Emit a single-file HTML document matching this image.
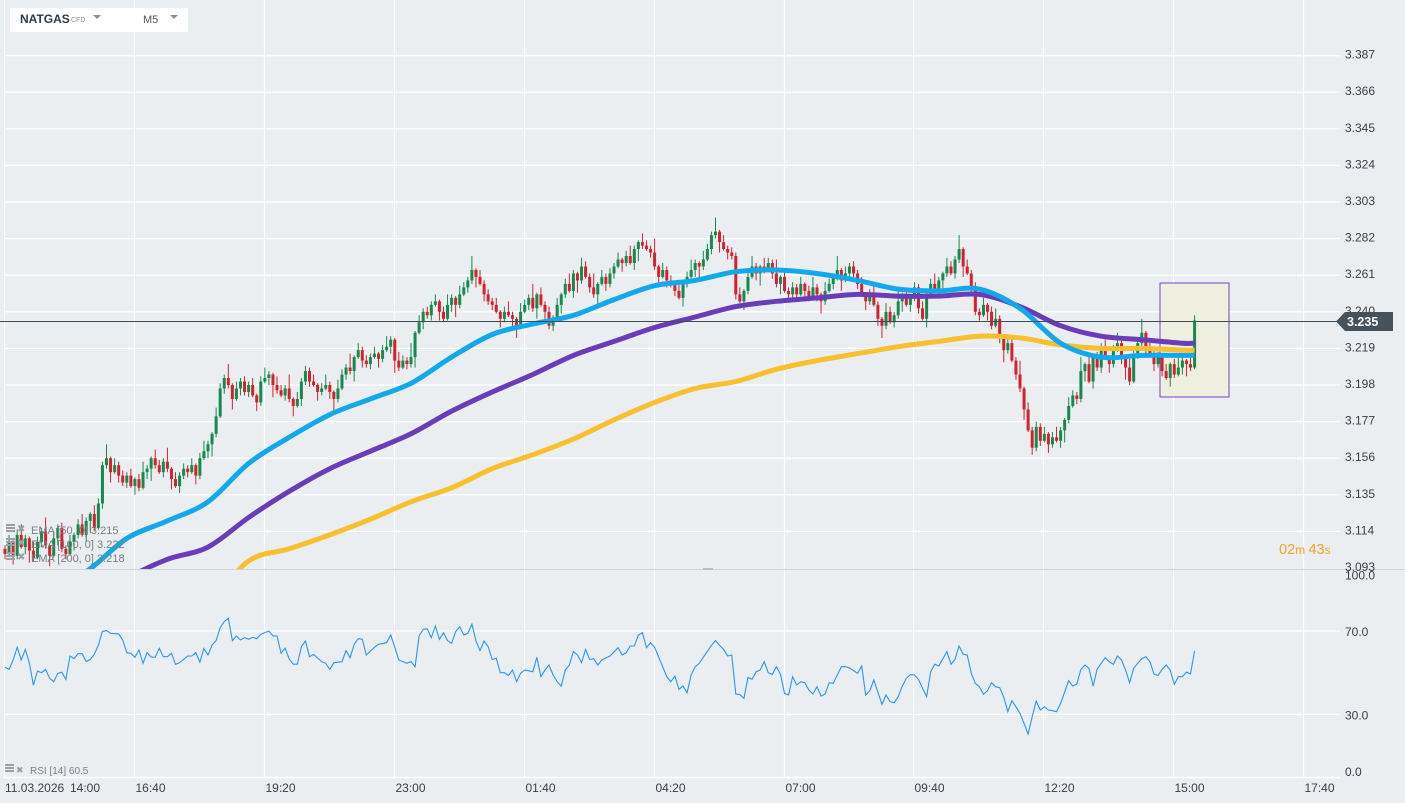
<!DOCTYPE html>
<html><head><meta charset="utf-8"><style>
html,body{margin:0;padding:0;background:#ebeef1;width:1405px;height:803px;overflow:hidden;font-family:"Liberation Sans",sans-serif}
svg{position:absolute;left:0;top:0}
</style></head><body>
<svg id="chart" width="1405" height="803" viewBox="0 0 1405 803">
<rect x="0" y="0" width="1405" height="803" fill="#ebeef1"/>
<g id="grid"></g>
<g id="highlight"><rect x="1160" y="283" width="69" height="114" fill="#efefdf" stroke="#7046c0" stroke-width="1"/></g>
<g id="candles"></g>
<g id="emas"></g>
<line x1="0" y1="321.5" x2="1340" y2="321.5" stroke="#3f4a52" stroke-width="1"/>
<rect x="0" y="569" width="1340" height="1" fill="#cfd4d8"/>
<rect x="1340" y="569" width="65" height="1" fill="#cfd4d8"/>
<rect x="703" y="568" width="10" height="2" fill="#b9bec3"/>
<g id="rsi"></g>
<g id="axes"></g>
<g>
<polygon points="1336,321.5 1345,312 1393,312 1393,331 1345,331" fill="#45525c"/>
<text x="1347" y="326" font-size="12.5" font-weight="bold" fill="#fff">3.235</text>
</g>
<g>
<text x="1279" y="554" fill="#f5a321" font-size="14"><tspan font-size="14.5">02</tspan><tspan font-size="12">m </tspan><tspan font-size="14.5">43</tspan><tspan font-size="12">s</tspan></text>
</g>
<g font-size="11" fill="#7a7f85">
<g><rect x="6" y="524" width="9" height="2" fill="#9aa0a6"/><rect x="6" y="527" width="9" height="2" fill="#9aa0a6"/><rect x="6" y="530" width="9" height="2" fill="#9aa0a6"/><text x="17" y="532" fill="#9aa0a6" font-size="10">✖</text><text x="31" y="534">EMA  [50, 0]  3.215</text></g>
<g><rect x="6" y="538" width="9" height="2" fill="#9aa0a6"/><rect x="6" y="541" width="9" height="2" fill="#9aa0a6"/><rect x="6" y="544" width="9" height="2" fill="#9aa0a6"/><text x="17" y="546" fill="#9aa0a6" font-size="10">✖</text><text x="31" y="548">EMA  [100, 0]  3.222</text></g>
<g><rect x="6" y="552" width="9" height="2" fill="#9aa0a6"/><rect x="6" y="555" width="9" height="2" fill="#9aa0a6"/><rect x="6" y="558" width="9" height="2" fill="#9aa0a6"/><text x="17" y="560" fill="#9aa0a6" font-size="10">✖</text><text x="31" y="562">EMA  [200, 0]  3.218</text></g>
</g>
<g font-size="10" fill="#7a7f85">
<rect x="5" y="764" width="9" height="2" fill="#9aa0a6"/><rect x="5" y="767" width="9" height="2" fill="#9aa0a6"/><rect x="5" y="770" width="9" height="2" fill="#9aa0a6"/><text x="16" y="773" fill="#9aa0a6" font-size="9">✖</text><text x="30" y="774">RSI  [14]  60.5</text>
</g>
<g>
<rect x="10" y="8" width="178" height="24" rx="2" fill="#ffffff"/>
<text x="20" y="23" font-size="12" font-weight="bold" fill="#2f3b47">NATGAS</text>
<text x="71" y="22" font-size="7" fill="#8a9098">CFD</text>
<polygon points="93,15 101,15 97,19" fill="#8a9098"/>
<text x="143" y="23" font-size="11" fill="#4a525a">M5</text>
<polygon points="170,15 178,15 174,19" fill="#8a9098"/>
</g>
</svg>
<script>
// ---- data ----
const closes = [
3.101,3.108,3.100,3.112,3.105, 3.110,3.103,3.099,3.108,3.114,
3.106,3.100,3.110,3.116,3.104, 3.101,3.108,3.112,3.118,3.112,
3.120,3.124,3.116,3.130,3.152, 3.156,3.148,3.152,3.146,3.142,
3.146,3.140,3.144,3.139,3.148, 3.150,3.156,3.152,3.148,3.154,
3.150,3.144,3.140,3.146,3.150, 3.148,3.152,3.146,3.156,3.160,
3.164,3.170,3.180,3.196,3.202, 3.198,3.190,3.196,3.200,3.194,
3.198,3.192,3.188,3.200,3.202, 3.204,3.198,3.195,3.192,3.196,
3.190,3.186,3.190,3.200,3.206, 3.200,3.198,3.194,3.196,3.198,
3.194,3.190,3.196,3.204,3.208, 3.206,3.214,3.218,3.212,3.210,
3.214,3.216,3.213,3.218,3.220, 3.224,3.212,3.208,3.212,3.210,
3.214,3.228,3.234,3.240,3.238, 3.244,3.246,3.240,3.236,3.244,
3.248,3.244,3.250,3.254,3.258, 3.264,3.260,3.256,3.250,3.246,
3.244,3.240,3.236,3.240,3.238, 3.236,3.232,3.240,3.244,3.248,
3.242,3.250,3.244,3.240,3.232, 3.236,3.244,3.250,3.256,3.252,
3.262,3.258,3.266,3.260,3.254, 3.250,3.256,3.260,3.256,3.262,
3.266,3.270,3.268,3.272,3.268, 3.276,3.280,3.278,3.276,3.274,
3.266,3.260,3.264,3.258,3.256, 3.252,3.248,3.256,3.260,3.264,
3.268,3.266,3.270,3.276,3.284, 3.286,3.280,3.276,3.274,3.272,
3.250,3.246,3.252,3.260,3.266, 3.262,3.266,3.264,3.268,3.262,
3.256,3.260,3.252,3.250,3.254, 3.250,3.256,3.252,3.248,3.254,
3.250,3.246,3.252,3.256,3.260, 3.264,3.258,3.262,3.266,3.262,
3.256,3.250,3.246,3.250,3.244, 3.236,3.232,3.240,3.234,3.238,
3.246,3.250,3.244,3.248,3.254, 3.242,3.236,3.250,3.256,3.252,
3.258,3.262,3.266,3.262,3.270, 3.276,3.266,3.262,3.254,3.240,
3.238,3.244,3.240,3.232,3.236, 3.226,3.218,3.222,3.212,3.204,
3.196,3.184,3.172,3.162,3.174, 3.166,3.170,3.164,3.168,3.166,
3.172,3.178,3.186,3.192,3.190, 3.206,3.210,3.200,3.214,3.208,
3.220,3.214,3.210,3.218,3.222, 3.214,3.208,3.200,3.216,3.222,
3.228,3.220,3.216,3.210,3.214, 3.206,3.202,3.210,3.204,3.208,
3.212,3.210,3.208,3.235];
const firstOpen = 3.104;
const wickUp = [0.002,0.004,0.001,0.003,0.006,0.002,0.001,0.005,0.003,0.002,0.008,0.001,0.004,0.002,0.003];
const wickDn = [0.003,0.001,0.005,0.002,0.001,0.004,0.007,0.002,0.001,0.003,0.002,0.006,0.001,0.004,0.002];
const emaBars = [0,10,20,30,40,50,60,70,80,90,100,110,120,130,140,150,160,170,180,190,200,210,220,230,240,250,260,270,280,290,293];
const ema50 = [3.075,3.081,3.091,3.110,3.120,3.131,3.153,3.168,3.181,3.190,3.199,3.214,3.227,3.233,3.238,3.247,3.255,3.258,3.263,3.264,3.262,3.258,3.253,3.252,3.253,3.242,3.222,3.214,3.215,3.215,3.215];
const ema100 = [3.052,3.061,3.072,3.087,3.098,3.105,3.122,3.137,3.150,3.160,3.170,3.183,3.194,3.204,3.215,3.223,3.231,3.237,3.243,3.246,3.248,3.250,3.249,3.249,3.250,3.243,3.232,3.226,3.224,3.222,3.222];
const ema200 = [3.018,3.024,3.032,3.044,3.058,3.072,3.097,3.104,3.112,3.121,3.131,3.139,3.150,3.158,3.167,3.178,3.188,3.196,3.200,3.207,3.212,3.216,3.220,3.223,3.226,3.225,3.221,3.219,3.219,3.218,3.218];
const rsiBars = [0,1,2,3,4,5,6,7,8,9,10,11,12,13,14,15,16,17,18,19,20,21,22,23,24,25,26,28,29,30,31,32,33,34,35,36,37,38,39,40,41,42,43,45,46,47,48,49,50,51,52,53,54,55,56,57,58,59,60,61,62,63,65,66,67,68,69,70,71,72,73,74,75,76,78,79,80,81,83,84,85,86,87,88,89,91,92,94,95,96,97,99,100,101,102,103,104,105,106,107,108,109,110,111,112,113,114,115,116,117,118,119,120,121,122,123,124,125,126,127,128,130,131,132,133,134,135,136,137,138,139,140,141,142,143,144,145,146,147,149,151,152,153,154,155,156,157,158,159,160,162,163,164,165,166,167,168,169,170,171,172,174,175,176,177,178,179,180,181,182,183,184,185,186,187,188,189,190,191,192,193,194,195,196,197,198,199,200,201,202,203,204,205,206,207,208,210,211,212,213,214,216,217,218,219,220,221,222,223,224,225,226,227,228,229,230,232,233,234,235,236,237,238,239,240,241,242,243,244,245,246,247,248,249,250,251,252,253,254,255,256,257,258,259,260,262,263,264,265,266,267,268,269,270,271,272,273,274,275,276,277,278,279,280,281,282,283,284,285,286,287,288,289,290,291,292,293];
const rsiVals = [52.6,51.6,56.1,62.2,56.1,61.2,54.5,44,50.8,50,51.6,47.3,45.7,49.7,50.2,46.8,58,56.7,59.1,59.1,55.4,56.4,58.8,63.3,69.8,70.2,68.9,68.6,65.7,59.6,59.3,57.4,60.9,54.5,59.6,57.5,57.4,61.7,57.7,57.7,59.3,54,54.8,58,58,59.6,55.1,61.7,58.5,63.3,65.4,71.6,74.5,76.1,65.4,67.6,65.7,66.8,66,67,66.3,68.4,70,67.6,67.6,59.3,61.8,56.6,54.1,54.1,62.5,65.2,57.7,58.8,55.3,54.5,51.6,54.8,55.3,60.6,57.2,63.6,66.3,66,58.5,62.2,63.6,64.4,68.1,62.2,56.1,54.5,55.3,52.9,67.6,70.8,71.1,66.8,72.4,66,69.2,65.4,64.1,69.7,72.1,68.1,68.9,73.3,65.2,60.6,65.2,62.5,56.4,56.9,50,50,48.6,51.3,45.7,49.7,51.3,50.5,57.4,48.1,51.3,53.7,48.9,45.7,43.6,51.3,53.7,60.1,58.5,54.8,61.2,56.4,56.7,53.7,56.1,58,62,58.5,59.6,62.8,62.8,68.1,69.2,62,64.4,62.2,52.9,48.1,45.7,48.4,42,43.6,40.4,48.9,52.9,54.5,57.4,63.1,65.4,63.1,61.2,58,58.5,39.8,39.5,37.7,47.8,46.8,50.5,51.3,55.3,50,49.2,52.9,49.2,40.1,39.3,48.1,44.1,45.7,45.2,41.7,39.8,43.3,38.8,39.8,45.2,44.9,48.9,52.9,52.9,52.3,49.7,53.2,39.3,41.4,46.5,34.8,39.3,36.1,35.6,38.5,43.6,47.3,49.1,48.9,46.8,42.5,38.5,50.5,54.1,53.2,60.1,54.1,56.4,62.8,58.8,58.5,49.7,44.9,43.3,39.6,41.4,45.2,43.3,42.8,38.2,31.3,36.6,33.7,30.5,25.7,20.6,28.9,36.4,32.1,33.7,32.1,31.8,31.3,35.3,46.2,43.6,44.6,51.6,53.7,52.1,43.6,51.6,54.5,57.2,55.3,54,58,56.1,51.3,45.2,52.1,54.5,56.7,57.7,55.3,49.4,48.6,51.6,53.7,51.3,44.4,48.1,48.1,50.3,49.4,60.5];
const priceTicks = [3.387,3.366,3.345,3.324,3.303,3.282,3.261,3.240,3.219,3.198,3.177,3.156,3.135,3.114,3.093];
const rsiTicks = [100,70,30,0];
const rsiTickLabels = ["100.0","70.0","30.0","0.0"];
const timeLabels = ["14:00","16:40","19:20","23:00","01:40","04:20","07:00","09:40","12:20","15:00","17:40"];
const timeLabelBars = [0,32,64,96,128,160,192,224,256,288,320];

// ---- axis functions ----
const NS = "http://www.w3.org/2000/svg";
function xBar(i){ return 5 + i*4.06; }
function yP(p){ return 385 - (p-3.198)/0.021*36.6; }
function yR(v){ return 777 - v*146/70; }
function mk(tag, attrs, parent){ const e=document.createElementNS(NS,tag); for(const k in attrs) e.setAttribute(k,attrs[k]); parent.appendChild(e); return e; }

const grid = document.getElementById('grid');
const axes = document.getElementById('axes');
timeLabelBars.forEach((b,k)=>{
  const x = Math.round(xBar(b)) - 0.5;
  const l = mk('line',{x1:x,y1:0,x2:x,y2:777,stroke:'#ffffff','stroke-width':1.2},grid);
  
  
  const t = mk('text',{x:(k===0? 70 : x+1),y:792,'font-size':12,fill:'#3a3f45'},axes);
  t.textContent = timeLabels[k];
  
  
});
const dateT = mk('text',{x:5,y:792,'font-size':12,fill:'#3a3f45'},axes);
dateT.textContent = '11.03.2026';


priceTicks.forEach(p=>{
  const y = yP(p);
  if (y < 565) {
    const l = mk('line',{x1:4,y1:y,x2:1340,y2:y,stroke:'#ffffff','stroke-width':1.2},grid);
    
    
  }
  const t = mk('text',{x:1345,y:y+3,'font-size':12,fill:'#3a3f45'},axes);
  t.textContent = p.toFixed(3);
  
  
});
rsiTicks.forEach((v,k)=>{
  const y = yR(v);
  if (v>0 && v<100){
    const l = mk('line',{x1:4,y1:y,x2:1340,y2:y,stroke:'#ffffff','stroke-width':1.2},grid);
    
    
  }
  const ty = v===100 ? y+11 : (v===0 ? y-1 : y+5);
  const t = mk('text',{x:1345,y:ty,'font-size':12,fill:'#3a3f45'},axes);
  t.textContent = rsiTickLabels[k];
  
  
});
const bl = mk('line',{x1:4,y1:777.5,x2:1340,y2:777.5,stroke:'#ffffff','stroke-width':1.5},grid);



// candles
const cg = document.getElementById('candles');
for (let i=0;i<closes.length;i++){
  const o = i===0 ? firstOpen : closes[i-1];
  const c = closes[i];
  const hi = Math.max(o,c) + wickUp[i%wickUp.length];
  const lo = Math.min(o,c) - wickDn[i%wickDn.length];
  const up = c >= o;
  const col = up ? '#148a4e' : '#d7202d';
  const x = xBar(i);
  const yHi = yP(hi), yLo = yP(lo);
  if (yHi > 569) continue;
  const g = mk('g',{},cg);
  
  
  mk('line',{x1:x,y1:yHi,x2:x,y2:Math.min(yLo,569),stroke:col,'stroke-width':1},g);
  const yt = Math.min(yP(o),yP(c)), yb = Math.max(yP(o),yP(c));
  mk('rect',{x:x-1.5,y:yt,width:3,height:Math.max(1,Math.min(yb,569)-yt),fill:col},g);
}

// EMA lines (smoothed)
const eg = document.getElementById('emas');
const clip = mk('clipPath',{id:'mainclip'},eg);
mk('rect',{x:0,y:0,width:1340,height:569},clip);
function smoothPath(pts){
  let d = 'M'+pts[0][0].toFixed(1)+','+pts[0][1].toFixed(1);
  for (let i=0;i<pts.length-1;i++){
    const p0 = pts[Math.max(0,i-1)], p1 = pts[i], p2 = pts[i+1], p3 = pts[Math.min(pts.length-1,i+2)];
    const c1x = p1[0]+(p2[0]-p0[0])/6, c1y = p1[1]+(p2[1]-p0[1])/6;
    const c2x = p2[0]-(p3[0]-p1[0])/6, c2y = p2[1]-(p3[1]-p1[1])/6;
    d += 'C'+c1x.toFixed(1)+','+c1y.toFixed(1)+' '+c2x.toFixed(1)+','+c2y.toFixed(1)+' '+p2[0].toFixed(1)+','+p2[1].toFixed(1);
  }
  return d;
}
function drawEma(vals,color,name){
  const pts = emaBars.map((b,k)=>[xBar(b), yP(vals[k])]);
  const p = mk('path',{d:smoothPath(pts),fill:'none',stroke:color,'stroke-width':5,'stroke-linejoin':'round','stroke-linecap':'butt','clip-path':'url(#mainclip)'},eg);
  
  
}
drawEma(ema200,'#f8bf2e','ema-200-line');
drawEma(ema100,'#6a3db8','ema-100-line');
drawEma(ema50,'#12a9ec','ema-50-line');

// RSI
const rg = document.getElementById('rsi');
let rd='';
rsiBars.forEach((b,k)=>{ rd += (k?'L':'M') + xBar(b).toFixed(1)+','+yR(rsiVals[k]).toFixed(1); });
const rp = mk('path',{d:rd,fill:'none',stroke:'#2b95f0','stroke-width':1.1},rg);


</script>
</body></html>
